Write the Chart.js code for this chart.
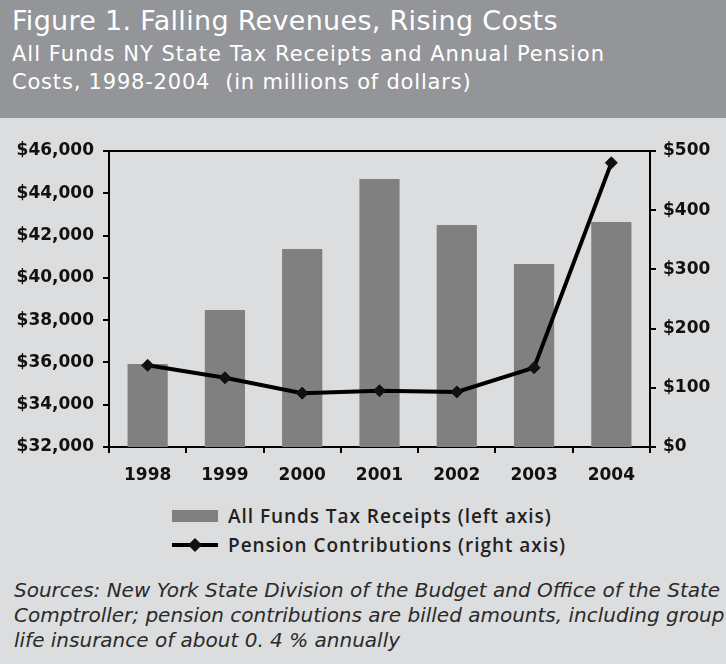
<!DOCTYPE html>
<html>
<head>
<meta charset="utf-8">
<script src="https://cdn.jsdelivr.net/npm/chart.js@4.4.0/dist/chart.umd.min.js"></script>
<style>
  html, body { margin: 0; padding: 0; }
  body { width: 726px; height: 664px; background: #dcdddf; position: relative; overflow: hidden; }
  #header { position: absolute; left: 0; top: 0; width: 726px; height: 118px; background: #939598; color: #fff;
            font-family: "DejaVu Sans", sans-serif; }
  #header .t { position: absolute; left: 12px; white-space: nowrap; }
  #title { top: 5px; font-size: 27px; letter-spacing: 0.3px; }
  #sub1 { top: 42px; font-size: 21px; letter-spacing: 1px; }
  #sub2 { top: 70px; font-size: 21px; letter-spacing: 0.8px; }
  #wrap { position: absolute; left: 0; top: 118px; width: 726px; height: 382px; }
  #legend { position: absolute; left: 172px; top: 504px; font-family: "Open Sans", sans-serif; font-weight: 600;
            font-size: 19px; letter-spacing: 0.95px; color: #231f20; }
  #legend .row { position: relative; height: 29px; }
  #legend .sw { position: absolute; left: 0; }
  #legend .lab { position: absolute; left: 56px; top: 0; white-space: nowrap; line-height: 24px; }
  #footer { position: absolute; left: 14px; top: 578px; font-family: "DejaVu Sans", sans-serif; font-style: italic;
            font-size: 20px; line-height: 25px; color: #2a2a2a; white-space: nowrap; }
</style>
</head>
<body>
<div id="header">
  <div class="t" id="title">Figure 1. Falling Revenues, Rising Costs</div>
  <div class="t" id="sub1">All Funds NY State Tax Receipts and Annual Pension</div>
  <div class="t" id="sub2">Costs, 1998-2004&nbsp; (in millions of dollars)</div>
</div>
<div id="wrap"><canvas id="chart" width="726" height="382"></canvas></div>
<div id="legend">
  <div class="row">
    <div class="sw" style="top:6px;width:46px;height:12px;background:#808080"></div>
    <div class="lab">All Funds Tax Receipts (left axis)</div>
  </div>
  <div class="row">
    <svg class="sw" style="top:4px" width="46" height="16"><line x1="0" y1="8" x2="46" y2="8" stroke="#000" stroke-width="4"/><polygon points="23,1 30,8 23,15 16,8" fill="#111"/></svg>
    <div class="lab">Pension Contributions (right axis)</div>
  </div>
</div>
<div id="footer">Sources: New York State Division of the Budget and Office of the State<br>Comptroller; pension contributions are billed amounts, including group<br>life insurance of about 0. 4 % annually</div>
<script>
// chart values (millions of dollars)
const years = ['1998', '1999', '2000', '2001', '2002', '2003', '2004'];
const taxReceipts = [35930, 38480, 41370, 44680, 42500, 40660, 42640];
const pensionCosts = [138, 117, 91, 95, 93, 134, 480];
const leftTicks = [32000, 34000, 36000, 38000, 40000, 42000, 44000, 46000];
const rightTicks = [0, 100, 200, 300, 400, 500];

const tickFont = { family: 'DejaVu Sans', weight: 'bold', size: 17 };

const ctx = document.getElementById('chart').getContext('2d');
new Chart(ctx, {
    type: 'bar',
    data: {
        labels: years,
        datasets: [
            {
                type: 'line',
                label: 'Pension Contributions (right axis)',
                data: pensionCosts,
                yAxisID: 'y1',
                borderColor: '#000',
                borderWidth: 4,
                tension: 0,
                pointStyle: 'rectRot',
                pointRadius: 6,
                pointBackgroundColor: '#111',
                pointBorderColor: '#111',
                pointBorderWidth: 1,
                order: 0
            },
            {
                label: 'All Funds Tax Receipts (left axis)',
                data: taxReceipts,
                yAxisID: 'y',
                backgroundColor: '#808080',
                barPercentage: 0.52,
                categoryPercentage: 1,
                order: 1
            }
        ]
    },
    options: {
        responsive: false,
        animation: false,
        layout: { padding: { top: 33, left: 0, right: 0, bottom: 0 } },
        plugins: { legend: { display: false }, tooltip: { enabled: false } },
        scales: {
            x: {
                grid: { drawOnChartArea: false, tickLength: 6, color: '#000', lineWidth: 2, offset: true },
                border: { color: '#000', width: 2 },
                ticks: { color: '#111', font: tickFont, padding: 12 },
                afterFit: function(scale) { scale.height = 53; }
            },
            y: {
                position: 'left',
                min: 32000,
                max: 46000,
                afterBuildTicks: function(scale) { scale.ticks = leftTicks.map(v => ({ value: v })); },
                grid: {
                    color: c => (c.tick && c.tick.value === 46000 ? '#000' : 'rgba(0,0,0,0)'),
                    tickColor: '#000',
                    lineWidth: 2,
                    tickLength: 6
                },
                border: { color: '#000', width: 2 },
                ticks: {
                    color: '#111', font: tickFont, padding: 9,
                    callback: v => '$' + v.toLocaleString('en-US')
                },
                afterFit: function(scale) { scale.width = 109; }
            },
            y1: {
                position: 'right',
                min: 0,
                max: 500,
                afterBuildTicks: function(scale) { scale.ticks = rightTicks.map(v => ({ value: v })); },
                grid: { drawOnChartArea: false, color: '#000', lineWidth: 2, tickLength: 6 },
                border: { color: '#000', width: 2 },
                ticks: {
                    color: '#111', font: tickFont, padding: 7,
                    callback: v => '$' + v
                },
                afterFit: function(scale) { scale.width = 76; }
            }
        }
    }
});
</script>
</body>
</html>
